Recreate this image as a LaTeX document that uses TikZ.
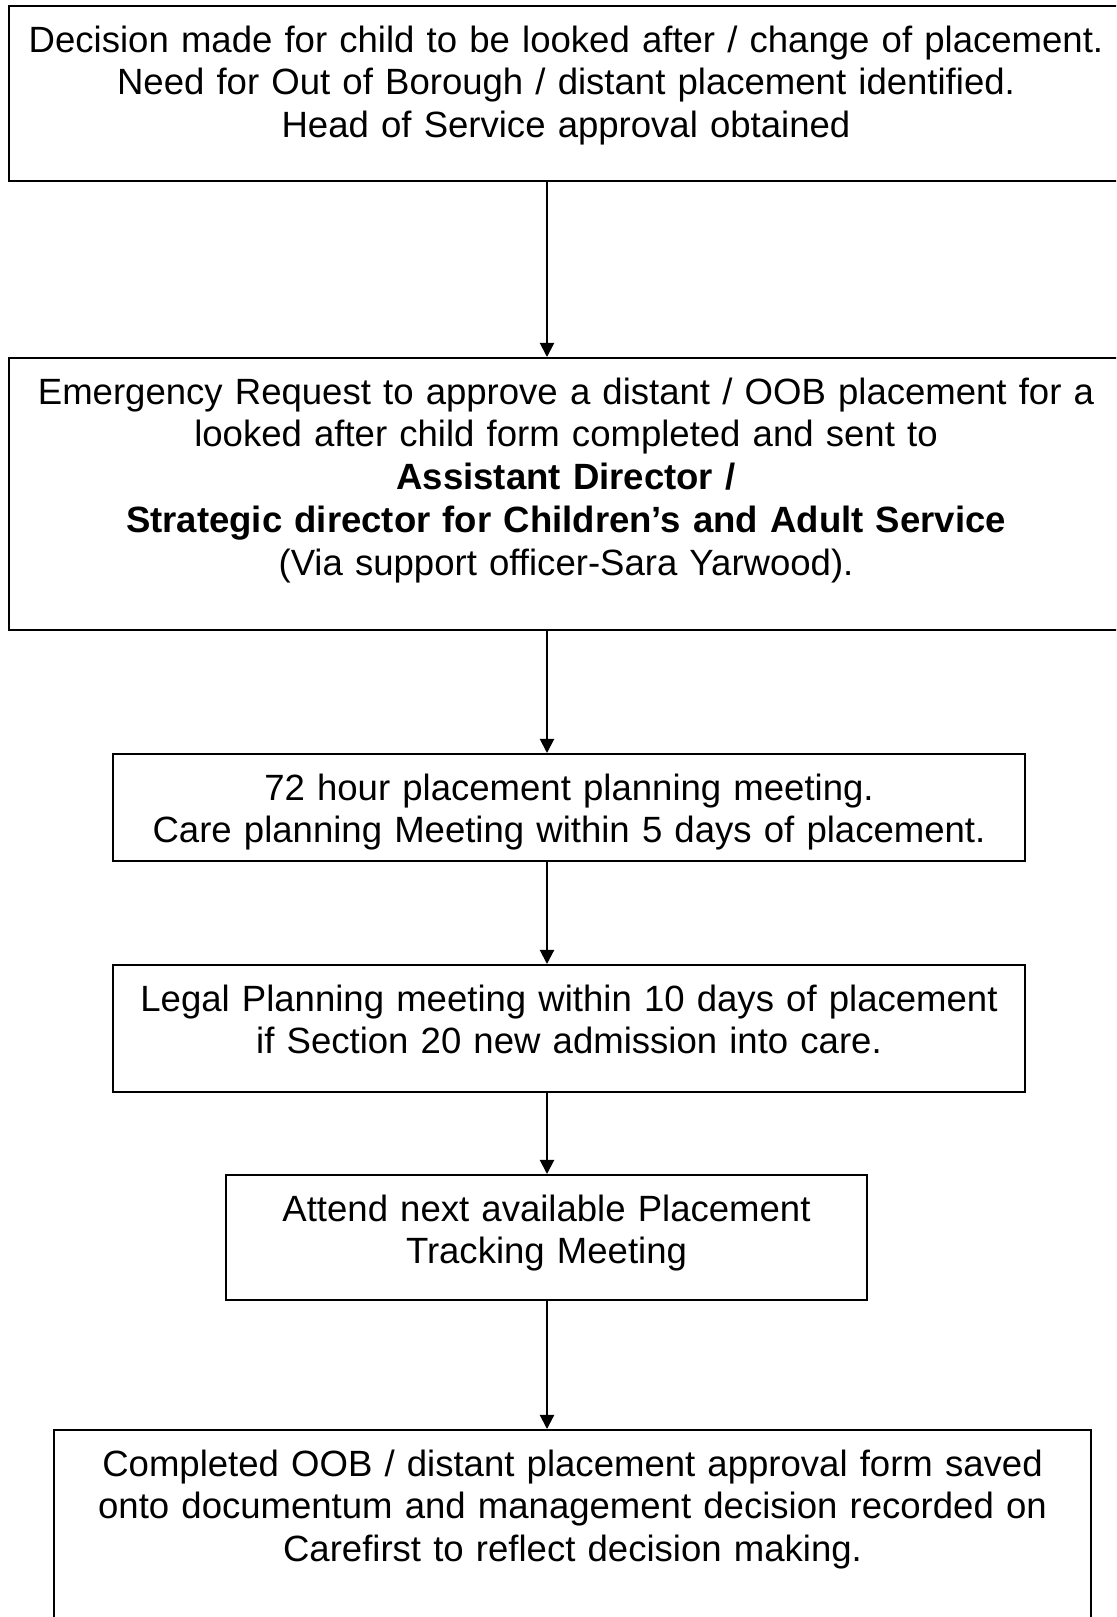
\documentclass[tikz,border=0pt]{standalone}
\usepackage{fontspec}
\setmainfont{Liberation Sans}
\usepackage{tikz}
\usetikzlibrary{arrows.meta}
\tikzstyle{stagebox} = [rectangle, draw=black, line width=0.7pt, anchor=north, inner xsep=0pt, inner ysep=0pt, text height=14.85pt, align=center, font=\fontsize{11.8pt}{13.8pt}\selectfont]
\tikzstyle{arrow} = [line width=0.65pt, -{Triangle[length=4.6pt, width=4.6pt]}]

\begin{document}
\begin{tikzpicture}[x=0.3229pt, y=-0.3229pt]
            \useasboundingbox (0,0) rectangle (1116,1617);
            \clip (0,0) rectangle (1116,1617);
            \coordinate (axis) at (547,0);

            \node (decide) [stagebox, text width=359.7pt, text depth=41.7pt] at (566,5) {Decision made for child to be looked after / change of placement.\\Need for Out of Borough / distant placement identified.\\Head of Service approval obtained};
            \node (request) [stagebox, text width=359.7pt, text depth=73.0pt] at (566,357) {Emergency Request to approve a distant / OOB placement for a\\looked after child form completed and sent to\\\textbf{Assistant Director /}\\\textbf{Strategic director for Children’s and Adult Service}\\(Via support officer-Sara Yarwood).};
            \node (meeting) [stagebox, text width=294.5pt, text depth=19.7pt] at (569,753) {72 hour placement planning meeting.\\Care planning Meeting within 5 days of placement.};
            \node (legal) [stagebox, text width=294.5pt, text depth=26.2pt] at (569,964) {Legal Planning meeting within 10 days of placement\\if Section 20 new admission into care.};
            \node (tracking) [stagebox, text width=207.0pt, text depth=25.5pt] at (546.5,1174) {Attend next available Placement\\Tracking Meeting};
            \node (record) [stagebox, text width=334.9pt, text depth=66.8pt] at (572.5,1429) {Completed OOB / distant placement approval form saved\\onto documentum and management decision recorded on\\Carefirst to reflect decision making.};

            \draw[arrow] (decide.south -| axis) -- (request.north -| axis);
            \draw[arrow] (request.south -| axis) -- (meeting.north -| axis);
            \draw[arrow] (meeting.south -| axis) -- (legal.north -| axis);
            \draw[arrow] (legal.south -| axis) -- (tracking.north -| axis);
            \draw[arrow] (tracking.south -| axis) -- (record.north -| axis);
        \end{tikzpicture}
\end{document}
